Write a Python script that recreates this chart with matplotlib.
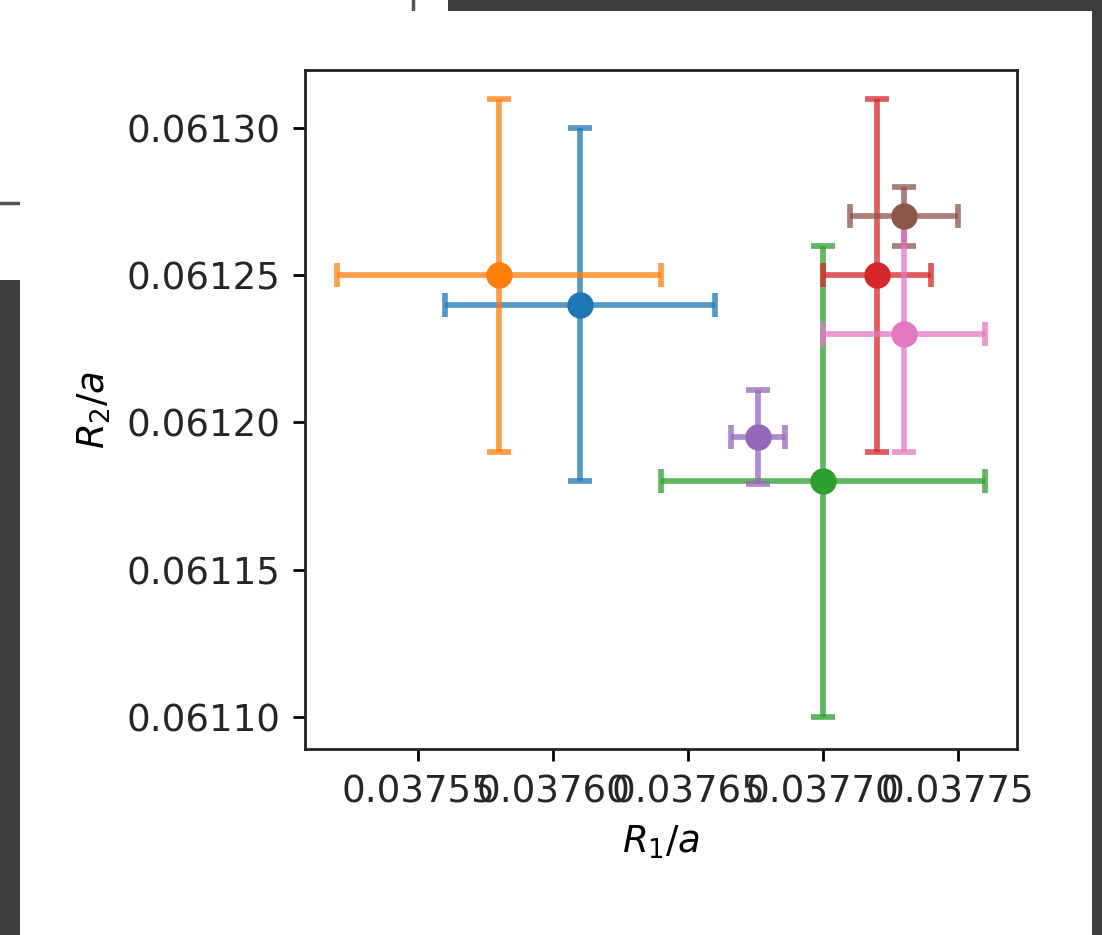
import numpy as np
import matplotlib.pyplot as plt
from matplotlib.patches import Rectangle
from matplotlib.lines import Line2D

# Fitted radii with their uncertainties
r1 = [0.03761, 0.03758, 0.03770, 0.03772, 0.037676, 0.03773, 0.03773]
r1_err = [0.00005, 0.00006, 0.00006, 0.00002, 0.00001, 0.00002, 0.00003]
r2 = [0.06124, 0.06125, 0.06118, 0.06125, 0.061195, 0.06127, 0.06123]
r2_err = [0.00006, 0.00006, 0.00008, 0.00006, 0.000016, 0.00001, 0.00004]

plt.rcParams["font.size"] = 10.7
plt.rcParams["text.color"] = "#262626"
plt.rcParams["xtick.labelcolor"] = "#262626"
plt.rcParams["ytick.labelcolor"] = "#262626"
plt.rcParams["axes.edgecolor"] = "#222222"

W, H, dpi = 1102, 935, 250
fig = plt.figure(figsize=(W / dpi, H / dpi), dpi=dpi, facecolor="#3d3d3d")

# window behind the plot and the plot's own white panel
fig.add_artist(Rectangle((0, 1 - 280 / H), 448 / W, 280 / H, transform=fig.transFigure,
                         facecolor="white", edgecolor="none", zorder=0))
fig.add_artist(Line2D([413 / W, 413 / W], [1 - 11 / H, 1], transform=fig.transFigure,
                      color="#555555", lw=1.0, zorder=0.5))
fig.add_artist(Line2D([0, 20 / W], [1 - 203 / H, 1 - 203 / H], transform=fig.transFigure,
                      color="#555555", lw=1.0, zorder=0.5))
fig.add_artist(Rectangle((20 / W, 0), 1072 / W, 1 - 11 / H, transform=fig.transFigure,
                         facecolor="white", edgecolor="none", zorder=1))

ax = fig.add_axes([305 / W, 1 - 749 / H, 712 / W, 679 / H])
ax.set_zorder(2)

for i in range(len(r1)):
    line, caps, bars = ax.errorbar(r1[i], r2[i], xerr=r1_err[i], yerr=r2_err[i],
                                   fmt="o", ms=6.6, elinewidth=1.65, capsize=3.5,
                                   capthick=1.65, color=f"C{i}")
    for c in caps:
        c.set_alpha(0.75)
    for b in bars:
        b.set_alpha(0.75)

ax.set_xticks([0.03755, 0.03760, 0.03765, 0.03770, 0.03775])
ax.set_yticks([0.06110, 0.06115, 0.06120, 0.06125, 0.06130])
ax.set_xlim(0.037508, 0.037772)
ax.set_ylim(0.0610891, 0.0613197)
ax.set_xlabel(r"$R_1/a$")
ax.set_ylabel(r"$R_2/a$")

fig.savefig("out.png", dpi=dpi, facecolor=fig.get_facecolor())
